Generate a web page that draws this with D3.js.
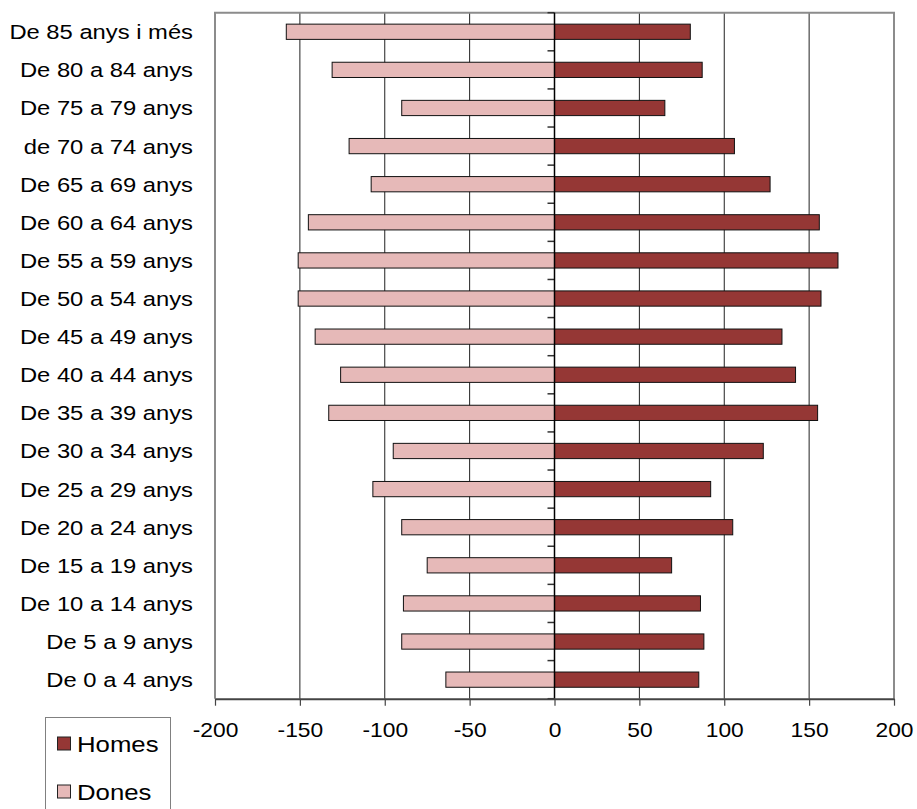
<!DOCTYPE html>
<html>
<head>
<meta charset="utf-8">
<script src="https://cdn.jsdelivr.net/npm/d3@7"></script>
<style>
  html, body { margin: 0; padding: 0; background: #fff; }
  svg { display: block; font-family: "Liberation Sans", Arial, sans-serif; }
</style>
</head>
<body>
<svg id="chart" width="917" height="809"></svg>
<script>
// Categories from youngest (bottom) to oldest (top)
const categories = [
  "De 0 a 4 anys", "De 5 a 9 anys", "De 10 a 14 anys", "De 15 a 19 anys",
  "De 20 a 24 anys", "De 25 a 29 anys", "De 30 a 34 anys", "De 35 a 39 anys",
  "De 40 a 44 anys", "De 45 a 49 anys", "De 50 a 54 anys", "De 55 a 59 anys",
  "De 60 a 64 anys", "De 65 a 69 anys", "de 70 a 74 anys", "De 75 a 79 anys",
  "De 80 a 84 anys", "De 85 anys i més"
];
const homes = [85, 88, 86, 69, 105, 92, 123, 155, 142, 134, 157, 167, 156, 127, 106, 65, 87, 80];
const dones = [-64, -90, -89, -75, -90, -107, -95, -133, -126, -141, -151, -151, -145, -108, -121, -90, -131, -158];
const xTicks = [-200, -150, -100, -50, 0, 50, 100, 150, 200];
const seriesNames = ["Homes", "Dones"];
const seriesColors = ["#953735", "#E6B9B8"];

(function () {
const svg = d3.select("#chart");
const pLeft = 215, pRight = 894, pTop = 12.7, pBottom = 698.7;

const x = d3.scaleLinear().domain([-200, 200]).range([pLeft, pRight]);
const y = d3.scaleBand()
  .domain(categories.slice().reverse())
  .range([pTop, pBottom])
  .paddingInner(0.6).paddingOuter(0.3);

// vertical gridlines
svg.append("g").selectAll("line")
  .data(xTicks.filter(d => d !== -200 && d !== 200 && d !== 0))
  .join("line")
  .attr("x1", d => x(d)).attr("x2", d => x(d))
  .attr("y1", pTop).attr("y2", pBottom)
  .attr("stroke", "#222").attr("stroke-width", 1);

// plot border (top, left, right)
svg.append("path")
  .attr("d", `M${pLeft},${pBottom} V${pTop} H${pRight} V${pBottom}`)
  .attr("fill", "none").attr("stroke", "#8c8c8c").attr("stroke-width", 2);

// bars
const bh = y.bandwidth();
svg.append("g").selectAll("rect")
  .data(categories.map((c, i) => ({c, v: dones[i]})))
  .join("rect")
  .attr("x", d => x(d.v)).attr("width", d => x(0) - x(d.v))
  .attr("y", d => y(d.c)).attr("height", bh)
  .attr("fill", seriesColors[1]).attr("stroke", "#111").attr("stroke-width", 1);
svg.append("g").selectAll("rect")
  .data(categories.map((c, i) => ({c, v: homes[i]})))
  .join("rect")
  .attr("x", x(0)).attr("width", d => x(d.v) - x(0))
  .attr("y", d => y(d.c)).attr("height", bh)
  .attr("fill", seriesColors[0]).attr("stroke", "#111").attr("stroke-width", 1);

// category axis at 0 with ticks at band boundaries
const step = y.step();
const bounds = d3.range(categories.length + 1).map(i => pTop + i * step);
svg.append("g").selectAll("line")
  .data(bounds)
  .join("line")
  .attr("x1", x(0) - 7).attr("x2", x(0))
  .attr("y1", d => d).attr("y2", d => d)
  .attr("stroke", "#333").attr("stroke-width", 1.5);
svg.append("line")
  .attr("x1", x(0)).attr("x2", x(0)).attr("y1", pTop).attr("y2", pBottom)
  .attr("stroke", "#000").attr("stroke-width", 1.5);

// bottom axis
const xAxis = svg.append("g")
  .attr("transform", `translate(0,${pBottom})`)
  .call(d3.axisBottom(x).tickValues(xTicks).tickSize(7).tickSizeOuter(0).tickFormat(d3.format("d")));
xAxis.select(".domain").attr("stroke", "#444").attr("stroke-width", 2);
xAxis.selectAll(".tick line").attr("stroke", "#444").attr("stroke-width", 1.2);
xAxis.selectAll(".tick text").remove();
xAxis.selectAll(".tick").append("text")
  .attr("transform", `translate(0,38) scale(1.14,1)`)
  .attr("text-anchor", "middle")
  .attr("fill", "#000")
  .style("font-size", "20px")
  .style("font-family", "'Liberation Sans', Arial, sans-serif")
  .text(d => d);

// category labels
svg.append("g").selectAll("text")
  .data(categories)
  .join("text")
  .attr("transform", d => `translate(193,${y(d) + bh / 2 + 7.5}) scale(1.16,1)`)
  .attr("text-anchor", "end")
  .attr("fill", "#000")
  .style("font-size", "20.5px")
  .text(d => d);

// legend
const lg = svg.append("g");
lg.append("rect")
  .attr("x", 45.5).attr("y", 717.5).attr("width", 125).attr("height", 110)
  .attr("fill", "#fff").attr("stroke", "#808080").attr("stroke-width", 1);
const ly = [751.5, 799.5];
seriesNames.forEach((n, i) => {
  lg.append("rect")
    .attr("x", 57.5).attr("y", ly[i] - 14.5).attr("width", 13).attr("height", 13)
    .attr("fill", seriesColors[i]).attr("stroke", "#222").attr("stroke-width", 1);
  lg.append("text")
    .attr("transform", `translate(77,${ly[i]}) scale(1.12,1)`)
    .attr("fill", "#000")
    .style("font-size", "23px")
    .text(n);
});
})();
</script>
</body>
</html>
